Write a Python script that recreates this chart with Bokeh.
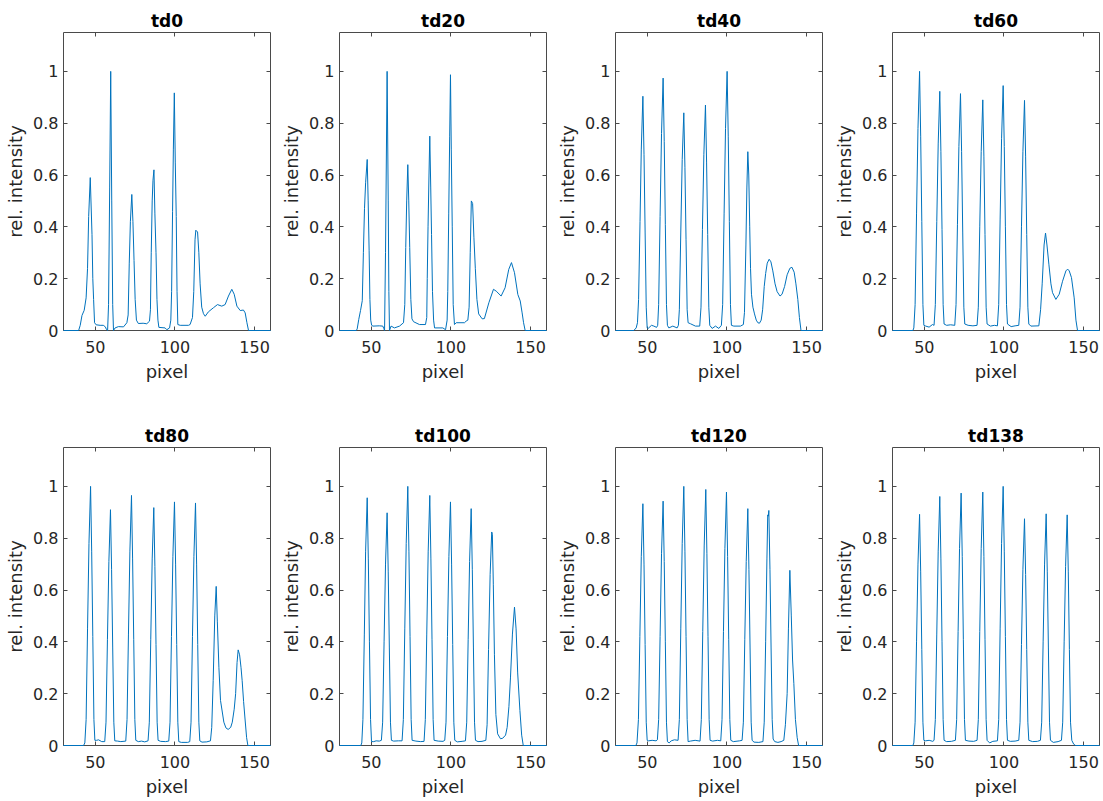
from bokeh.plotting import figure
from bokeh.models import LinearAxis, FixedTicker, Range1d, ColumnDataSource
from bokeh.layouts import row, column
from bokeh.embed import file_html
from bokeh.resources import INLINE

titles = ["td0", "td20", "td40", "td60", "td80", "td100", "td120", "td138"]
x_ticks = [50, 100, 150]
x_tick_labels = ["50", "100", "150"]
y_ticks = [0, 0.2, 0.4, 0.6, 0.8, 1]
y_tick_labels = ["0", "0.2", "0.4", "0.6", "0.8", "1"]
x_label = "pixel"
y_label = "rel. intensity"
x_limits = (30, 160)
y_limits = (0, 1.15)

# (pixel, rel. intensity) vertices
td0 = [(30, 0), (39.5, 0), (40.5, 0.02), (41.6, 0.058), (43.0, 0.078), (44.2, 0.126), (45.1, 0.24), (45.8, 0.44),
       (46.8, 0.59), (47.9, 0.37), (48.4, 0.2), (48.9, 0.12), (49.5, 0.03), (50.5, 0.022), (53, 0.02), (55, 0.02),
       (56.3, 0.014), (56.9, 0.005), (57.7, 0.0), (58.3, 0.1), (59.0, 0.55), (59.65, 1.0), (60.3, 0.5), (60.9, 0.1),
       (61.4, 0.0), (62.4, 0.01), (64.5, 0.015), (67.7, 0.014), (69.8, 0.03), (70.6, 0.06), (71.3, 0.26),
       (72.0, 0.42), (72.9, 0.525), (73.6, 0.42), (74.3, 0.27), (75.0, 0.12), (75.8, 0.04), (77, 0.027), (80, 0.028),
       (82.3, 0.026), (84, 0.036), (84.6, 0.08), (85.1, 0.3), (85.7, 0.5), (86.2, 0.58), (86.8, 0.62), (87.4, 0.45),
       (88.1, 0.3), (88.7, 0.12), (89.3, 0.04), (89.9, 0.012), (93.8, 0.01), (94.9, 0.003), (96.6, 0.01),
       (97.4, 0.04), (97.9, 0.15), (98.5, 0.46), (99.0, 0.7), (99.6, 0.917), (100.2, 0.65), (100.8, 0.44),
       (101.3, 0.15), (101.8, 0.023), (103.3, 0.02), (108.5, 0.02), (109.5, 0.023), (111.0, 0.05), (111.8, 0.15),
       (112.6, 0.35), (113.1, 0.387), (114.2, 0.38), (115.0, 0.3), (115.8, 0.18), (116.8, 0.09), (117.9, 0.065),
       (119, 0.055), (121, 0.072), (124.2, 0.088), (126.7, 0.1), (129.4, 0.094), (131.5, 0.1), (133.6, 0.133),
       (135.7, 0.159), (137.2, 0.14), (138.9, 0.094), (141, 0.077), (143, 0.079), (144.1, 0.068), (145.2, 0.03),
       (146.2, 0), (160, 0)]

td20 = [(30, 0), (40.5, 0), (41.1, 0.006), (42.1, 0.043), (43.2, 0.077), (44.3, 0.115), (45.0, 0.3), (45.7, 0.47),
        (46.4, 0.57), (47.4, 0.66), (48.0, 0.5), (48.6, 0.31), (49.1, 0.12), (49.6, 0.04), (50.2, 0.02), (51, 0.017),
        (55, 0.018), (57.2, 0.017), (57.8, 0.008), (58.3, 0.0), (58.9, 0.3), (59.9, 1.0), (60.6, 0.5), (61.0, 0.15),
        (61.4, 0.0), (62.4, 0.017), (64.5, 0.01), (67.7, 0.017), (70.2, 0.03), (71.0, 0.1), (71.6, 0.32),
        (72.2, 0.5), (72.9, 0.64), (73.5, 0.5), (74.1, 0.32), (74.8, 0.12), (75.5, 0.045), (76.5, 0.034),
        (80.2, 0.023), (84, 0.023), (84.8, 0.05), (85.1, 0.2), (85.6, 0.4), (86.2, 0.6), (86.7, 0.75), (87.3, 0.55),
        (87.8, 0.37), (88.4, 0.15), (89.1, 0.04), (89.7, 0.01), (94.9, 0.01), (96.6, 0.003), (97.6, 0.04),
        (98.0, 0.15), (98.6, 0.45), (99.2, 0.75), (99.7, 0.987), (100.2, 0.7), (100.8, 0.4), (101.4, 0.1),
        (102.2, 0.023), (103.3, 0.03), (108.5, 0.03), (109.5, 0.036), (110.6, 0.04), (111.4, 0.09), (112.1, 0.3),
        (112.8, 0.5), (113.6, 0.49), (114.4, 0.36), (115.3, 0.24), (116.3, 0.12), (117.4, 0.064), (119.6, 0.045),
        (121, 0.046), (123.8, 0.107), (126.7, 0.159), (128.4, 0.152), (131.5, 0.133), (134, 0.165), (136.3, 0.236),
        (138.0, 0.262), (139.9, 0.223), (142, 0.139), (143.5, 0.114), (144.7, 0.068), (145.6, 0.03), (146.6, 0),
        (160, 0)]

td40 = [(30, 0), (41.5, 0), (43, 0.01), (43.8, 0.03), (44.5, 0.12), (45.4, 0.42), (46.2, 0.7), (47.2, 0.904),
        (47.9, 0.68), (48.6, 0.38), (49.3, 0.09), (49.9, 0.01), (50.5, 0.008), (52.6, 0.02), (54.1, 0.017),
        (55.8, 0.012), (56.5, 0.02), (57.1, 0.1), (58.0, 0.44), (58.9, 0.76), (59.9, 0.974), (60.6, 0.73),
        (61.3, 0.41), (62.0, 0.1), (62.6, 0.02), (63.5, 0.01), (66, 0.017), (68.7, 0.01), (69.5, 0.02), (70.1, 0.08),
        (71.0, 0.38), (71.9, 0.66), (72.9, 0.84), (73.6, 0.63), (74.3, 0.35), (75.0, 0.08), (75.6, 0.03),
        (77.1, 0.026), (80.2, 0.017), (82.9, 0.017), (83.7, 0.09), (84.6, 0.39), (85.5, 0.68), (86.5, 0.87),
        (87.2, 0.65), (87.9, 0.37), (88.6, 0.09), (89.2, 0.02), (90.7, 0.008), (92.8, 0.017), (94.9, 0.008),
        (96.5, 0.02), (97.3, 0.1), (98.2, 0.45), (99.1, 0.78), (100.1, 1.0), (100.8, 0.75), (101.5, 0.42),
        (102.2, 0.1), (102.8, 0.02), (104.3, 0.017), (108.5, 0.017), (110.3, 0.023), (111.0, 0.07), (111.9, 0.33),
        (112.5, 0.55), (113.1, 0.69), (113.7, 0.6), (114.3, 0.4), (114.8, 0.24), (115.4, 0.14), (116.3, 0.09),
        (117.3, 0.064), (118.4, 0.04), (119.4, 0.03), (120.4, 0.028), (121.5, 0.04), (122.4, 0.08), (123.4, 0.17),
        (124.3, 0.22), (125.3, 0.26), (126.5, 0.275), (127.6, 0.265), (128.8, 0.23), (130.2, 0.18), (131.5, 0.15),
        (133.3, 0.133), (134.6, 0.14), (136.2, 0.17), (137.8, 0.215), (139.5, 0.24), (140.8, 0.244), (142.2, 0.225),
        (143.3, 0.18), (144.5, 0.12), (145.5, 0.05), (146.5, 0), (160, 0)]

td60 = [(30, 0), (42.8, 0), (43.4, 0.01), (44.2, 0.1), (45.1, 0.45), (46.0, 0.78), (47.0, 1.0), (47.7, 0.75),
        (48.4, 0.42), (49.1, 0.1), (49.7, 0.02), (50.9, 0.017), (53, 0.013), (55.1, 0.023), (56.1, 0.02),
        (56.9, 0.1), (57.8, 0.42), (58.7, 0.72), (59.7, 0.923), (60.4, 0.69), (61.1, 0.39), (61.8, 0.1),
        (62.4, 0.025), (64, 0.02), (66.5, 0.022), (69.1, 0.02), (69.9, 0.1), (70.8, 0.41), (71.7, 0.71),
        (72.7, 0.914), (73.4, 0.69), (74.1, 0.38), (74.8, 0.09), (75.4, 0.025), (77.5, 0.02), (80.5, 0.018),
        (83.1, 0.02), (83.9, 0.09), (84.8, 0.4), (85.7, 0.69), (86.7, 0.89), (87.4, 0.67), (88.1, 0.37),
        (88.8, 0.09), (89.4, 0.025), (91.5, 0.017), (94, 0.02), (95.9, 0.018), (96.7, 0.1), (97.6, 0.43),
        (98.5, 0.74), (99.5, 0.945), (100.2, 0.71), (100.9, 0.4), (101.6, 0.1), (102.2, 0.025), (104.5, 0.015),
        (107, 0.018), (109.3, 0.02), (110.1, 0.09), (111.0, 0.4), (111.9, 0.69), (112.9, 0.888), (113.6, 0.67),
        (114.3, 0.37), (115.0, 0.09), (115.6, 0.025), (116.9, 0.017), (121.9, 0.018), (123.0, 0.08), (124.0, 0.18),
        (125.2, 0.33), (126.1, 0.376), (127.0, 0.33), (128.2, 0.256), (129.5, 0.18), (130.5, 0.146), (132.6, 0.12),
        (134.7, 0.14), (136.8, 0.19), (138.9, 0.23), (140.0, 0.237), (141.0, 0.23), (142.4, 0.204), (144.1, 0.126),
        (145.2, 0.04), (146.2, 0), (160, 0)]

td80 = [(30, 0), (42.6, 0), (43.4, 0.01), (44.2, 0.1), (45.1, 0.45), (46.0, 0.78), (47.0, 1.0), (47.7, 0.75),
        (48.4, 0.42), (49.1, 0.1), (49.7, 0.02), (50.8, 0.02), (52, 0.022), (54, 0.015), (55.9, 0.015),
        (56.7, 0.09), (57.6, 0.41), (58.5, 0.71), (59.5, 0.91), (60.2, 0.68), (60.9, 0.38), (61.6, 0.09),
        (62.2, 0.018), (64, 0.017), (66, 0.015), (69.1, 0.017), (69.9, 0.1), (70.8, 0.43), (71.7, 0.75),
        (72.7, 0.965), (73.4, 0.72), (74.1, 0.41), (74.8, 0.1), (75.4, 0.02), (77, 0.015), (79, 0.017), (81, 0.014),
        (83.1, 0.018), (83.9, 0.09), (84.8, 0.41), (85.7, 0.72), (86.7, 0.918), (87.4, 0.69), (88.1, 0.39),
        (88.8, 0.09), (89.4, 0.02), (91, 0.016), (94, 0.015), (96.1, 0.017), (96.9, 0.09), (97.8, 0.42),
        (98.7, 0.73), (99.7, 0.94), (100.4, 0.7), (101.1, 0.39), (101.8, 0.09), (102.4, 0.015), (104, 0.012),
        (108, 0.012), (109.3, 0.015), (110.1, 0.09), (111.0, 0.42), (111.9, 0.73), (112.9, 0.936), (113.6, 0.7),
        (114.3, 0.39), (115.0, 0.09), (115.6, 0.018), (117, 0.013), (120, 0.014), (122.3, 0.018), (123.1, 0.07),
        (124.0, 0.25), (125.0, 0.5), (125.9, 0.614), (126.6, 0.48), (127.6, 0.3), (128.6, 0.174), (130.7, 0.09),
        (132, 0.068), (133.4, 0.062), (135, 0.07), (136, 0.09), (137.2, 0.14), (138.1, 0.2), (139.0, 0.32),
        (139.7, 0.369), (140.6, 0.35), (141.5, 0.3), (142.2, 0.25), (143.1, 0.17), (143.9, 0.11), (145, 0.03),
        (145.8, 0), (160, 0)]

td100 = [(30, 0), (43.4, 0), (44.0, 0.01), (44.7, 0.1), (45.6, 0.43), (46.4, 0.75), (47.4, 0.956), (48.1, 0.72),
         (48.8, 0.4), (49.5, 0.1), (50.1, 0.015), (51.5, 0.015), (53, 0.018), (55, 0.017), (56.3, 0.02),
         (57.1, 0.09), (58.0, 0.4), (58.9, 0.7), (59.9, 0.898), (60.6, 0.67), (61.3, 0.38), (62.0, 0.09),
         (62.6, 0.02), (64, 0.017), (67, 0.018), (69.3, 0.018), (70.1, 0.1), (71.0, 0.45), (71.9, 0.78),
         (72.9, 1.0), (73.6, 0.75), (74.3, 0.42), (75.0, 0.1), (75.6, 0.02), (78, 0.017), (81, 0.015),
         (83.1, 0.016), (83.9, 0.1), (84.8, 0.43), (85.7, 0.75), (86.7, 0.965), (87.4, 0.72), (88.1, 0.41),
         (88.8, 0.1), (89.4, 0.02), (92, 0.017), (95, 0.016), (96.1, 0.02), (96.9, 0.09), (97.8, 0.42),
         (98.7, 0.73), (99.7, 0.94), (100.4, 0.7), (101.1, 0.39), (101.8, 0.09), (102.4, 0.02), (104, 0.014),
         (107, 0.016), (109.1, 0.018), (109.9, 0.09), (110.8, 0.41), (111.7, 0.71), (112.7, 0.914), (113.4, 0.68),
         (114.1, 0.38), (114.8, 0.09), (115.4, 0.02), (117, 0.015), (119.5, 0.016), (121.9, 0.02), (122.7, 0.08),
         (123.6, 0.37), (124.6, 0.66), (125.6, 0.824), (126.0, 0.815), (126.6, 0.62), (127.3, 0.35), (128.2, 0.12),
         (129.3, 0.045), (131.1, 0.026), (132.5, 0.028), (134.3, 0.04), (135.3, 0.07), (136.4, 0.15),
         (137.4, 0.264), (138.6, 0.43), (139.9, 0.534), (140.9, 0.45), (141.9, 0.28), (143.3, 0.135), (144.4, 0.04),
         (145.4, 0), (160, 0)]

td120 = [(30, 0), (42.8, 0), (43.5, 0.01), (44.4, 0.1), (45.3, 0.42), (46.2, 0.73), (47.2, 0.933), (47.9, 0.7),
         (48.6, 0.39), (49.3, 0.09), (49.9, 0.02), (50.8, 0.018), (53, 0.02), (55.5, 0.018), (56.3, 0.022),
         (57.1, 0.1), (58.0, 0.42), (58.9, 0.74), (59.9, 0.943), (60.6, 0.71), (61.3, 0.4), (62.0, 0.09),
         (62.6, 0.015), (63.7, 0.01), (65, 0.018), (67, 0.022), (69.3, 0.02), (70.1, 0.1), (71.0, 0.45),
         (71.9, 0.78), (72.9, 1.0), (73.6, 0.75), (74.3, 0.42), (75.0, 0.1), (75.6, 0.015), (77, 0.017), (80, 0.02),
         (83.1, 0.017), (83.9, 0.1), (84.8, 0.44), (85.7, 0.77), (86.7, 0.988), (87.4, 0.74), (88.1, 0.42),
         (88.8, 0.1), (89.4, 0.02), (91, 0.017), (94, 0.02), (96.1, 0.018), (96.9, 0.1), (97.8, 0.44), (98.7, 0.76),
         (99.7, 0.978), (100.4, 0.73), (101.1, 0.41), (101.8, 0.1), (102.4, 0.02), (104, 0.015), (108, 0.018),
         (109.5, 0.02), (110.3, 0.09), (111.2, 0.41), (112.1, 0.71), (113.1, 0.914), (113.8, 0.68), (114.5, 0.38),
         (115.2, 0.09), (115.8, 0.02), (117, 0.013), (120, 0.012), (122.6, 0.015), (123.4, 0.09), (124.3, 0.4),
         (125.1, 0.72), (125.6, 0.89), (126.0, 0.885), (126.3, 0.907), (127.0, 0.68), (127.7, 0.38), (128.4, 0.1),
         (129.0, 0.025), (130, 0.015), (132, 0.012), (134, 0.015), (135.7, 0.02), (136.7, 0.08), (137.8, 0.2),
         (138.6, 0.45), (139.5, 0.676), (140.4, 0.5), (141.2, 0.33), (142.0, 0.24), (143.0, 0.1), (144.1, 0.03),
         (145.0, 0), (160, 0)]

td138 = [(30, 0), (42.8, 0), (43.4, 0.01), (44.2, 0.09), (45.1, 0.4), (46.0, 0.7), (47.0, 0.892), (47.7, 0.67),
         (48.4, 0.37), (49.1, 0.09), (49.7, 0.02), (50.8, 0.018), (53, 0.02), (55.3, 0.016), (56.1, 0.02),
         (56.9, 0.1), (57.8, 0.43), (58.7, 0.75), (59.7, 0.961), (60.4, 0.72), (61.1, 0.4), (61.8, 0.1),
         (62.4, 0.02), (64, 0.015), (67, 0.016), (69.5, 0.02), (70.3, 0.1), (71.2, 0.44), (72.1, 0.76),
         (73.1, 0.974), (73.8, 0.73), (74.5, 0.41), (75.2, 0.1), (75.8, 0.02), (78, 0.017), (81, 0.016),
         (83.1, 0.02), (83.9, 0.1), (84.8, 0.44), (85.7, 0.76), (86.7, 0.978), (87.4, 0.73), (88.1, 0.41),
         (88.8, 0.1), (89.4, 0.02), (91, 0.01), (93, 0.016), (95.9, 0.018), (96.7, 0.1), (97.6, 0.45), (98.5, 0.78),
         (99.5, 1.0), (100.2, 0.75), (100.9, 0.42), (101.6, 0.1), (102.2, 0.02), (104, 0.016), (107, 0.017),
         (109.3, 0.02), (110.1, 0.09), (111.0, 0.39), (111.9, 0.68), (112.9, 0.875), (113.6, 0.66), (114.3, 0.37),
         (115.0, 0.09), (115.6, 0.02), (118, 0.015), (121, 0.016), (122.9, 0.02), (123.7, 0.09), (124.6, 0.4),
         (125.5, 0.7), (126.5, 0.894), (127.2, 0.67), (127.9, 0.38), (128.6, 0.09), (129.2, 0.02), (131, 0.012),
         (134, 0.015), (136.1, 0.02), (136.9, 0.09), (137.8, 0.4), (138.7, 0.69), (139.7, 0.89), (140.4, 0.67),
         (141.1, 0.37), (141.8, 0.09), (142.6, 0.02), (143.8, 0.005), (145, 0), (160, 0)]

profiles = [td0, td20, td40, td60, td80, td100, td120, td138]

LINE_COLOR = "#0072BD"
AX_COLOR = "#4a4a4a"
TEXT_COLOR = "#262626"
FONT = "DejaVu Sans"


def style_axis(ax, ticks, labels, show_labels):
    ax.ticker = FixedTicker(ticks=ticks)
    ax.major_tick_in = 4
    ax.major_tick_out = 0
    ax.minor_tick_line_color = None
    ax.axis_line_color = AX_COLOR
    ax.axis_line_width = 1
    ax.major_tick_line_color = AX_COLOR
    if show_labels:
        ax.major_label_overrides = {t: l for t, l in zip(ticks, labels)}
        ax.major_label_text_font = FONT
        ax.major_label_text_font_size = "16px"
        ax.major_label_text_color = TEXT_COLOR
        ax.axis_label_text_font = FONT
        ax.axis_label_text_font_size = "18px"
        ax.axis_label_text_font_style = "normal"
        ax.axis_label_text_color = TEXT_COLOR
    else:
        ax.major_label_text_color = None
        ax.major_label_text_font_size = "1px"
        ax.major_label_standoff = 0


def make_panel(i, title, prof):
    c = i % 4
    r = i // 4
    left = 63 if c < 3 else 64
    right = 6 if c < 3 else 3
    top = 32 if r == 0 else 57
    bottom = 60 if r == 0 else 55
    w = left + 207 + right
    h = top + 298 + bottom
    p = figure(width=w, height=h, x_range=Range1d(*x_limits), y_range=Range1d(*y_limits),
               output_backend="svg", toolbar_location=None,
               min_border_left=left, min_border_right=right, min_border_top=top, min_border_bottom=bottom)
    p.xgrid.visible = False
    p.ygrid.visible = False
    p.outline_line_color = None
    p.background_fill_color = "white"
    p.border_fill_color = "white"

    xa = p.xaxis[0]
    ya = p.yaxis[0]
    style_axis(xa, x_ticks, x_tick_labels, True)
    style_axis(ya, y_ticks, y_tick_labels, True)
    xa.axis_label = x_label
    ya.axis_label = y_label
    xa.major_label_standoff = 10
    xa.axis_label_standoff = 5
    ya.major_label_standoff = 5
    ya.axis_label_standoff = 4

    ax_top = LinearAxis()
    style_axis(ax_top, x_ticks, x_tick_labels, False)
    p.add_layout(ax_top, "above")
    ax_right = LinearAxis()
    style_axis(ax_right, y_ticks, y_tick_labels, False)
    p.add_layout(ax_right, "right")

    p.title.text = title
    p.title.align = "center"
    p.title.text_font = FONT
    p.title.text_font_style = "bold"
    p.title.text_font_size = "17px"
    p.title.text_color = "black"
    p.title.standoff = 3

    src = ColumnDataSource(dict(x=[v[0] for v in prof], y=[v[1] for v in prof]))
    p.line("x", "y", source=src, line_color=LINE_COLOR, line_width=1, level="overlay")
    return p


panels = [make_panel(i, t, pr) for i, (t, pr) in enumerate(zip(titles, profiles))]
layout = column(row(*panels[:4]), row(*panels[4:]))

open("out.html", "w").write(file_html(layout, INLINE))
